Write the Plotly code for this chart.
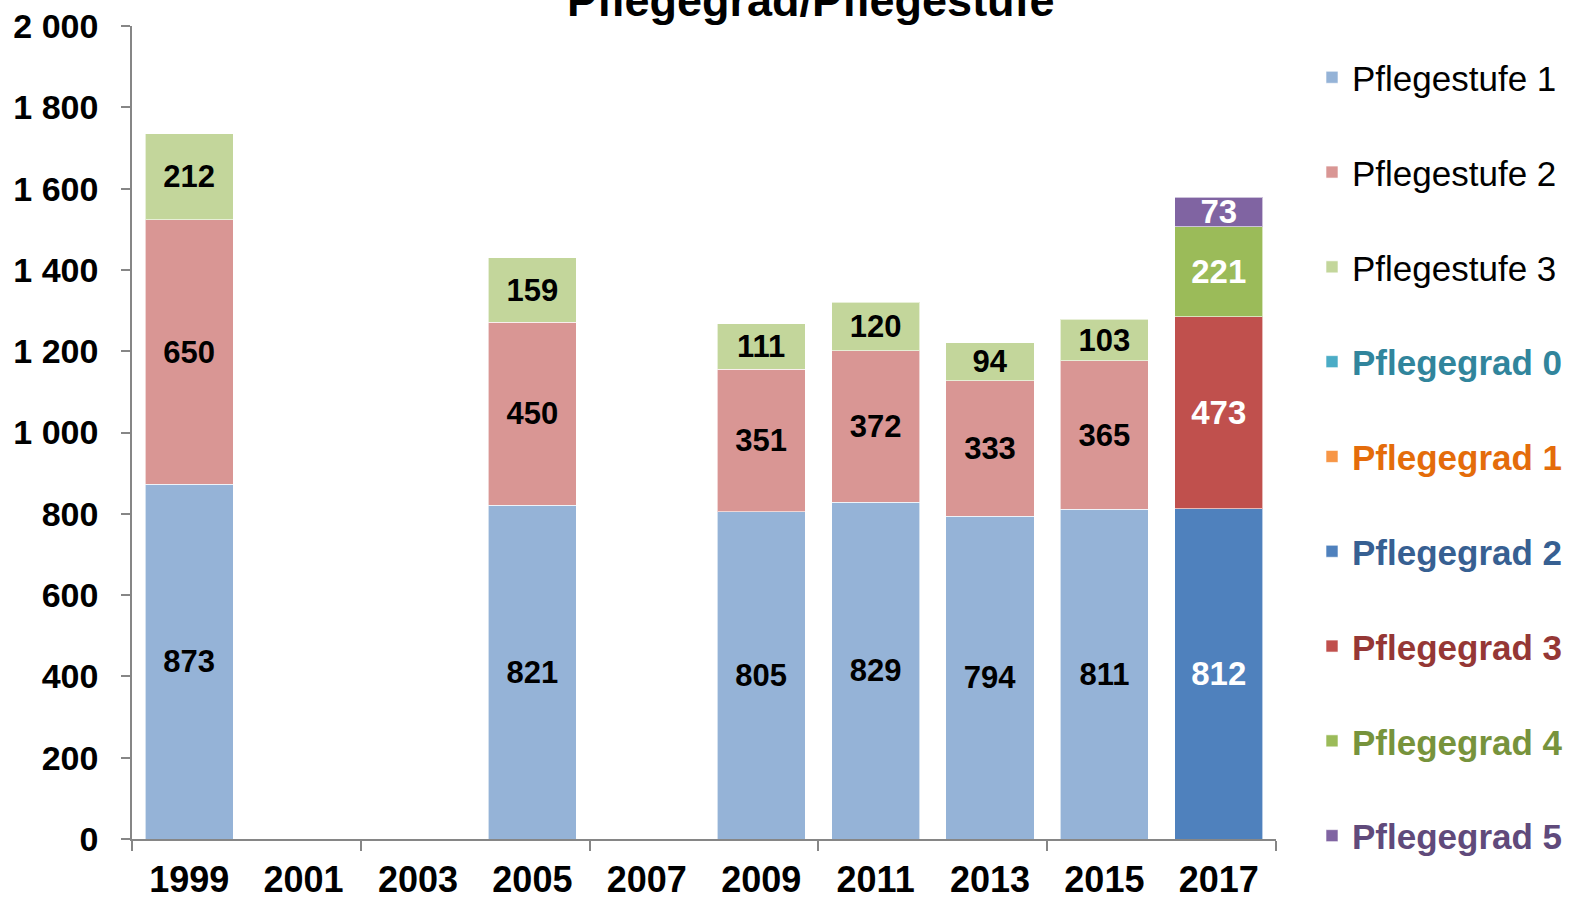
import plotly.graph_objects as go

years = [1999, 2001, 2003, 2005, 2007, 2009, 2011, 2013, 2015, 2017]
stufe_years = [1999, 2005, 2009, 2011, 2013, 2015]
stufe1 = [873, 821, 805, 829, 794, 811]
stufe2 = [650, 450, 351, 372, 333, 365]
stufe3 = [212, 159, 111, 120, 94, 103]
grad_years = [2017]
grad0 = [None]
grad1 = [None]
grad2 = [812]
grad3 = [473]
grad4 = [221]
grad5 = [73]
y_ticks = [0, 200, 400, 600, 800, 1000, 1200, 1400, 1600, 1800, 2000]
boundary_ticks = [1998, 2002, 2006, 2010, 2014, 2018]

SANS = "Liberation Sans, Arial, sans-serif"

series = [
    ("Pflegestufe 1", stufe_years, stufe1, "#95B3D7", None, "black", 31),
    ("Pflegestufe 2", stufe_years, stufe2, "#D99694", None, "black", 31),
    ("Pflegestufe 3", stufe_years, stufe3, "#C3D69B", None, "black", 31),
    ("Pflegegrad 0", grad_years, grad0, "#4BACC6", "#31859C", "white", 33),
    ("Pflegegrad 1", grad_years, grad1, "#F79646", "#E46C0A", "white", 33),
    ("Pflegegrad 2", grad_years, grad2, "#4F81BD", "#376092", "white", 33),
    ("Pflegegrad 3", grad_years, grad3, "#C0504D", "#953735", "white", 33),
    ("Pflegegrad 4", grad_years, grad4, "#9BBB59", "#77933C", "white", 33),
    ("Pflegegrad 5", grad_years, grad5, "#8064A2", "#604A7B", "white", 33),
]

fig = go.Figure()
for i, (name, xs, vals, color, legcol, tcol, tsize) in enumerate(series):
    if legcol:
        label = f"<span style='color:{legcol}'><b>{name}</b></span>"
    else:
        label = name
    fig.add_trace(go.Bar(
        x=xs, y=vals, name=label, legendgroup=f"g{i}",
        marker=dict(color=color, line=dict(color="rgba(255,255,255,0.6)", width=1)),
        width=1.54,
        text=[("" if v is None else str(v)) for v in vals],
        textposition="inside", insidetextanchor="middle", constraintext="none",
        textangle=0,
        textfont=dict(color=tcol, family=SANS, size=tsize, weight="bold"),
        showlegend=True,
    ))

fig.update_layout(
    width=1573, height=900,
    barmode="stack",
    plot_bgcolor="white", paper_bgcolor="white",
    margin=dict(l=132, r=297, t=26, b=61, autoexpand=False),
    separators=", ",
    legend=dict(xref="container", yref="paper", x=1312/1573, xanchor="left",
                y=1 - (48 - 26) / 813, yanchor="top", traceorder="grouped", tracegroupgap=46.3,
                font=dict(family=SANS, size=35, color="black"),
                bgcolor="rgba(0,0,0,0)"),
    showlegend=True,
    annotations=[dict(text="<b>Pflegegrad/Pflegestufe</b>", x=(811 - 132) / 1144, xref="paper",
                      xanchor="center", y=1 + (26 - 1) / 813, yref="paper", yanchor="middle",
                      showarrow=False, font=dict(family=SANS, size=45, color="black"))],
)
try:
    fig.update_layout(legend_maxheight=900)
except (ValueError, AttributeError):
    pass

fig.update_xaxes(
    range=[1998, 2018], tickvals=years, ticktext=[str(y) for y in years],
    ticks="", showgrid=False, showline=True, linecolor="#868686", linewidth=1.5,
    tickfont=dict(family=SANS, size=36, color="black", weight="bold"),
    ticklabelstandoff=8, automargin=False,
    minor=dict(tickvals=boundary_ticks, ticks="outside", ticklen=10, tickcolor="#868686", tickwidth=1.5),
    zeroline=False,
)
fig.update_yaxes(
    range=[0, 2000], tickvals=y_ticks, tickformat=",d",
    ticks="outside", ticklen=9, tickcolor="#868686", tickwidth=1.5,
    showgrid=False, showline=True, linecolor="#868686", linewidth=1.5,
    tickfont=dict(family=SANS, size=34, color="black", weight="bold"),
    ticklabelstandoff=16, zeroline=False, automargin=False,
)
fig.write_html("out.html", config={"displayModeBar": False},
               post_script="document.body.style.margin='0';")
